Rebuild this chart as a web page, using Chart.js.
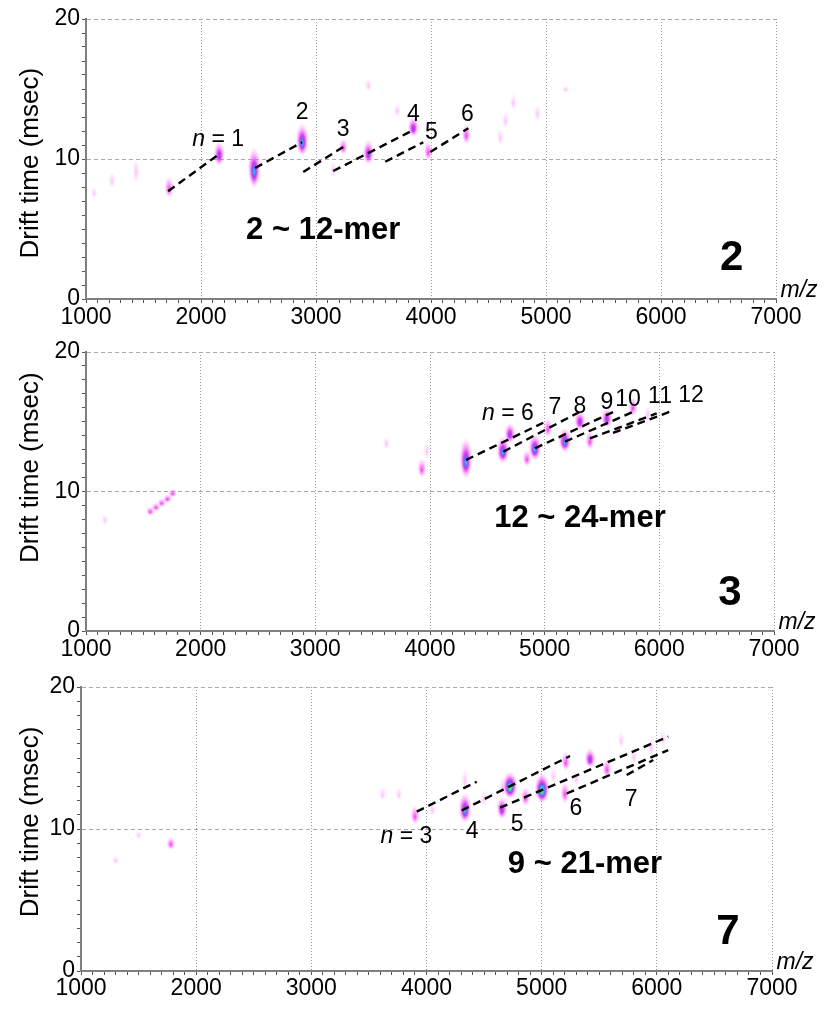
<!DOCTYPE html>
<html>
<head>
<meta charset="utf-8">
<script src="https://cdn.jsdelivr.net/npm/chart.js@4.4.0/dist/chart.umd.min.js"></script>
<style>
  html, body { margin: 0; padding: 0; background: #fff; }
  .panel { position: absolute; left: 0; width: 827px; }
</style>
</head>
<body>
<div class="panel" style="top:0;height:330px"><canvas id="p1" width="827" height="330"></canvas></div>
<div class="panel" style="top:330px;height:330px"><canvas id="p2" width="827" height="330"></canvas></div>
<div class="panel" style="top:660px;height:349px"><canvas id="p3" width="827" height="349"></canvas></div>
<script>
// tick labels shared by all three panels
const xTicks = [1000, 2000, 3000, 4000, 5000, 6000, 7000];
const yTicks = [0, 10, 20];

// panel "2" : peaks (m/z, drift time, intensity level 1-5, drift spread in msec)
const mz1 =     [1070, 1226, 1435, 1722, 2158, 2462, 2880, 3150, 3237, 3455, 3455, 3707, 3846, 3976, 4307, 4603, 4647, 4716, 4925, 5170];
const dt1 =     [7.6,  8.5,  9.2,  8.0,  10.4, 9.4,  11.4, 9.3,  10.9, 10.5, 15.3, 13.5, 12.3, 10.6, 11.8, 11.6, 12.8, 14.1, 13.3, 15.0];
const lvl1 =    [1,    1,    1,    2,    3,    4,    4,    1,    2,    3,    1,    1,    3,    2,    2,    1,    1,    1,    1,    1];
const spread1 = [0.8,  1.2,  1.8,  1.6,  1.8,  3.0,  2.4,  1.2,  1.2,  1.8,  1.0,  1.0,  1.4,  1.4,  1.5,  1.2,  1.2,  1.2,  1.2,  0.6];
// guide lines: [m/z start, dt start, m/z end, dt end]
const guide1 = [
  [1714, 7.7, 2158, 10.35],
  [2471, 9.36, 2880, 11.2],
  [2889, 9.07, 3237, 10.86],
  [3150, 9.14, 3846, 12.07],
  [3602, 9.8, 3933, 11.2],
  [3994, 10.5, 4325, 12.2]
];

// panel "3"
const mz2 =     [1166, 1560, 1610, 1660, 1710, 1755, 3620, 3929, 3973, 4313, 4636, 4697, 4845, 4915, 5028, 5176, 5307, 5394, 5542, 5640, 5769, 5900];
const dt2 =     [8.0,  8.6,  8.9,  9.2,  9.5,  9.9,  13.5, 11.7, 13.0, 12.4, 13.0, 14.2, 12.4, 13.2, 14.6, 13.7, 15.1, 13.7, 15.3, 14.5, 16.1, 15.6];
const lvl2 =    [1,    2,    2,    2,    2,    2,    1,    2,    1,    4,    4,    3,    2,    4,    2,    4,    3,    2,    3,    1,    2,    1];
const spread2 = [0.8,  0.6,  0.6,  0.6,  0.6,  0.6,  1.0,  1.4,  1.4,  3.0,  2.0,  1.5,  1.2,  2.0,  1.4,  1.8,  1.4,  1.4,  1.4,  1.2,  1.4,  1.2];
const guide2 = [
  [4314, 12.26, 4988, 14.93],
  [4639, 12.85, 5308, 15.72],
  [4916, 13.1, 5598, 15.7],
  [5177, 13.57, 5773, 15.72],
  [5395, 13.8, 5977, 15.6],
  [5596, 14.2, 6093, 15.72]
];

// panel "7"
const mz3 =     [1300, 1500, 1780, 3620, 3760, 3900, 4050, 4334, 4334, 4500, 4655, 4660, 4725, 4860, 5003, 5100, 5202, 5210, 5300, 5420, 5567, 5690, 5800, 5950, 6053];
const dt3 =     [7.8,  9.6,  9.0,  12.5, 12.5, 11.0, 11.4, 11.5, 13.5, 12.2, 11.5, 13.0, 13.1, 12.3, 12.9, 13.8, 12.6, 14.8, 13.6, 15.0, 14.3, 16.3, 15.2, 15.8, 16.4];
const lvl3 =    [1,    1,    2,    1,    1,    2,    1,    4,    1,    1,    3,    1,    5,    2,    5,    1,    2,    2,    1,    3,    2,    1,    1,    1,    1];
const spread3 = [0.6,  0.6,  0.9,  1.0,  1.0,  1.4,  1.0,  2.2,  1.6,  1.2,  1.6,  1.4,  2.0,  1.4,  2.2,  1.2,  1.6,  1.4,  1.2,  1.4,  1.4,  1.2,  1.4,  1.4,  1.2];
const guide3 = [
  [3915, 11.22, 4436, 13.33],
  [4305, 11.3, 5246, 15.14],
  [4638, 11.5, 6099, 16.5],
  [5217, 12.5, 6099, 15.56],
  [5738, 13.8, 5969, 14.86]
];

const FONT = "'Liberation Sans', Arial, Helvetica, sans-serif";

// colour ramps for the heat-map spots
const STOPS = {
  1: [[0, 'rgba(245,110,245,0.45)'], [1, 'rgba(255,160,255,0)']],
  2: [[0, 'rgba(235,40,235,0.95)'], [0.45, 'rgba(250,100,250,0.6)'], [1, 'rgba(255,170,255,0)']],
  3: [[0, 'rgb(120,80,255)'], [0.3, 'rgba(215,40,235,0.95)'], [0.65, 'rgba(250,110,250,0.5)'], [1, 'rgba(255,170,255,0)']],
  4: [[0, 'rgb(40,230,220)'], [0.2, 'rgb(70,120,255)'], [0.38, 'rgba(210,40,235,0.95)'], [0.7, 'rgba(250,110,250,0.45)'], [1, 'rgba(255,170,255,0)']],
  5: [[0, 'rgb(220,240,40)'], [0.12, 'rgb(60,220,80)'], [0.25, 'rgb(40,210,220)'], [0.36, 'rgb(80,100,255)'], [0.48, 'rgba(210,40,235,0.95)'], [0.78, 'rgba(250,120,250,0.4)'], [1, 'rgba(255,170,255,0)']]
};
const BLOB_W = { 1: 7, 2: 9, 3: 11, 4: 13, 5: 15 };
const spriteCache = {};

function blobSprite(level, hPx) {
  const w = BLOB_W[level];
  const h = Math.max(w, Math.round(hPx));
  const key = level + '_' + h;
  if (spriteCache[key]) return spriteCache[key];
  const c = document.createElement('canvas');
  c.width = w; c.height = h;
  const g = c.getContext('2d');
  g.translate(w / 2, h / 2);
  g.scale(1, h / w);
  const grad = g.createRadialGradient(0, w * 0.12, 0, 0, 0, w / 2);
  STOPS[level].forEach(s => grad.addColorStop(s[0], s[1]));
  g.fillStyle = grad;
  g.beginPath();
  g.arc(0, 0, w / 2, 0, Math.PI * 2);
  g.fill();
  spriteCache[key] = c;
  return c;
}

function drawLabel(ctx, l, px, py) {
  const weight = l.bold ? 'bold ' : '';
  const parts = l.italicN
    ? [['n', 'italic ' + weight], [l.text.slice(1), weight]]
    : [[l.text, (l.italic ? 'italic ' : '') + weight]];
  const fonts = parts.map(p => p[1] + l.size + 'px ' + FONT);
  let total = 0;
  const widths = parts.map((p, i) => {
    ctx.font = fonts[i];
    const w = ctx.measureText(p[0]).width;
    total += w;
    return w;
  });
  let cx = px - total / 2;
  ctx.textAlign = 'left';
  parts.forEach((p, i) => {
    ctx.font = fonts[i];
    ctx.fillText(p[0], cx, py);
    cx += widths[i];
  });
}

function textPlugin(spec) {
  return {
    id: 'panelText',
    afterDatasetsDraw(chart) {
      const { ctx, chartArea } = chart;
      const xs = chart.scales.x, ys = chart.scales.y;
      ctx.save();
      ctx.fillStyle = '#000';
      ctx.textBaseline = 'middle';
      spec.labels.forEach(l => {
        drawLabel(ctx, l, xs.getPixelForValue(l.x), ys.getPixelForValue(l.y));
      });
      // m/z unit, just outside the lower right corner
      drawLabel(ctx, { text: 'm/z', italic: true, size: 23 }, chartArea.right + 23, chartArea.bottom - 8);
      // y axis title
      ctx.translate(31, ys.getPixelForValue(spec.titleY));
      ctx.rotate(-Math.PI / 2);
      ctx.font = '26px ' + FONT;
      ctx.textAlign = 'center';
      ctx.fillText('Drift time (msec)', 0, 0);
      ctx.restore();
    }
  };
}

function makePanel(id, spec) {
  const spots = spec.mz.map((m, i) => ({ x: m, y: spec.dt[i], lv: spec.lvl[i], sp: spec.spread[i] }));
  const datasets = spec.guide.map(g => ({
    data: [{ x: g[0], y: g[1] }, { x: g[2], y: g[3] }],
    showLine: true,
    borderColor: '#000',
    borderWidth: 2.4,
    borderDash: [8, 5],
    pointRadius: 0,
    order: 0
  }));
  datasets.push({
    data: spots,
    order: 1,
    pointRadius: 5,
    pointHoverRadius: 5,
    pointStyle: ctx => {
      const r = ctx.raw;
      if (!r) return 'circle';
      const ys = ctx.chart.scales.y;
      const h = Math.abs(ys.getPixelForValue(0) - ys.getPixelForValue(r.sp));
      return blobSprite(r.lv, h);
    }
  });

  return new Chart(document.getElementById(id), {
    type: 'scatter',
    data: { datasets },
    options: {
      responsive: false,
      animation: false,
      events: [],
      layout: { padding: { left: 0, right: spec.padRight, top: spec.padTop, bottom: 0 } },
      plugins: { legend: { display: false }, tooltip: { enabled: false } },
      scales: {
        x: {
          type: 'linear', min: 1000, max: 7000,
          afterFit: s => { s.height = spec.xHeight; },
          ticks: {
            stepSize: 100, autoSkip: false, maxTicksLimit: 200, maxRotation: 0,
            padding: spec.tickPad, color: '#000',
            font: { family: FONT, size: 23 },
            callback: v => xTicks.includes(v) ? String(v) : ''
          },
          grid: {
            color: c => (c.tick && xTicks.includes(c.tick.value)) ? '#999' : 'rgba(0,0,0,0)',
            tickColor: '#555', tickLength: 4, lineWidth: 1, tickBorderDash: []
          },
          border: { display: true, color: '#808080', width: 2, dash: [1, 2] }
        },
        y: {
          type: 'linear', min: 0, max: 20,
          afterFit: s => { s.width = spec.yWidth; },
          ticks: {
            stepSize: 1, autoSkip: false, maxTicksLimit: 100, padding: 2, color: '#000',
            font: { family: FONT, size: 23 },
            callback: v => yTicks.includes(v) ? String(v) : ''
          },
          grid: {
            color: c => (c.tick && yTicks.includes(c.tick.value)) ? '#aaa' : 'rgba(0,0,0,0)',
            tickColor: '#555', tickLength: 4, lineWidth: 1, tickBorderDash: []
          },
          border: { display: true, color: '#808080', width: 2, dash: [4, 3] }
        }
      }
    },
    plugins: [textPlugin(spec)]
  });
}

makePanel('p1', {
  mz: mz1, dt: dt1, lvl: lvl1, spread: spread1, guide: guide1,
  padTop: 19, padRight: 51, yWidth: 86, xHeight: 31, tickPad: 1, titleY: 9.7,
  labels: [
    { text: 'n = 1', italicN: true, x: 2149, y: 11.35, size: 23 },
    { text: '2', x: 2880, y: 13.3, size: 23 },
    { text: '3', x: 3237, y: 12.1, size: 23 },
    { text: '4', x: 3846, y: 13.2, size: 23 },
    { text: '5', x: 4003, y: 11.85, size: 23 },
    { text: '6', x: 4316, y: 13.2, size: 23 },
    { text: '2 ~ 12-mer', bold: true, x: 3063, y: 4.9, size: 31 },
    { text: '2', bold: true, x: 6614, y: 2.9, size: 42 }
  ]
});

makePanel('p2', {
  mz: mz2, dt: dt2, lvl: lvl2, spread: spread2, guide: guide2,
  padTop: 22, padRight: 53, yWidth: 86, xHeight: 29, tickPad: 1, titleY: 11.7,
  labels: [
    { text: 'n = 6', italicN: true, x: 4680, y: 15.55, size: 23 },
    { text: '7', x: 5090, y: 16.0, size: 23 },
    { text: '8', x: 5308, y: 16.1, size: 23 },
    { text: '9', x: 5543, y: 16.4, size: 23 },
    { text: '10', x: 5727, y: 16.55, size: 23 },
    { text: '11', x: 6006, y: 16.8, size: 23 },
    { text: '12', x: 6276, y: 16.9, size: 23 },
    { text: '12 ~ 24-mer', bold: true, x: 5308, y: 8.1, size: 31 },
    { text: '3', bold: true, x: 6616, y: 2.7, size: 42 }
  ]
});

makePanel('p3', {
  mz: mz3, dt: dt3, lvl: lvl3, spread: spread3, guide: guide3,
  padTop: 27, padRight: 55, yWidth: 81, xHeight: 38, tickPad: 0, titleY: 10.5,
  labels: [
    { text: 'n = 3', italicN: true, x: 3826, y: 9.47, size: 23 },
    { text: '4', x: 4397, y: 9.8, size: 23 },
    { text: '5', x: 4786, y: 10.3, size: 23 },
    { text: '6', x: 5298, y: 11.4, size: 23 },
    { text: '7', x: 5776, y: 12.1, size: 23 },
    { text: '9 ~ 21-mer', bold: true, x: 5376, y: 7.5, size: 31 },
    { text: '7', bold: true, x: 6618, y: 2.75, size: 42 }
  ]
});
</script>
</body>
</html>
